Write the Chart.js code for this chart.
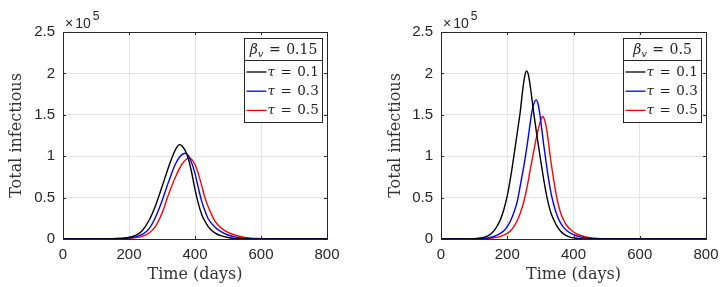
<!DOCTYPE html>
<html>
<head>
<meta charset="utf-8">
<script src="https://cdn.jsdelivr.net/npm/chart.js@4.4.1/dist/chart.umd.min.js"></script>
<style>
html, body { margin: 0; padding: 0; background: #fff; }
#wrap { position: relative; width: 728px; height: 287px; }
.pane { position: absolute; top: 0; width: 364px; height: 287px; }
</style>
</head>
<body>
<div id="wrap">
  <div class="pane" style="left:0"><canvas id="left" width="364" height="287"></canvas></div>
  <div class="pane" style="left:364px"><canvas id="right" width="364" height="287"></canvas></div>
</div>
<script>
// axes
const xTicks = [0, 200, 400, 600, 800];
const yTicks = [0, 0.5, 1, 1.5, 2, 2.5];
const yTickLabels = ['0', '0.5', '1', '1.5', '2', '2.5'];
const tauValues = ['0.1', '0.3', '0.5'];
const betaValues = ['0.15', '0.5'];
const seriesColors = ['#000000', '#0000ff', '#ff0000'];

// beta_v = 0.15 (values in units of 1e5)
const tA1 = [0, 100, 150, 200, 220, 240, 260, 280, 300, 320, 335, 345, 352, 360, 370, 380, 390, 400, 410, 420, 430, 440, 450, 460, 480, 500, 520, 550, 600, 700, 800];
const yA1 = [0, 0.001, 0.004, 0.018, 0.043, 0.1, 0.22, 0.4, 0.63, 0.87, 1.03, 1.11, 1.14, 1.125, 1.07, 0.97, 0.8, 0.6, 0.43, 0.3, 0.215, 0.15, 0.105, 0.075, 0.038, 0.018, 0.007, 0.002, 0.0005, 0, 0];
const tA2 = [0, 100, 150, 200, 220, 240, 260, 280, 300, 320, 340, 355, 370, 385, 400, 410, 420, 430, 440, 460, 480, 500, 520, 550, 600, 700, 800];
const yA2 = [0, 0.001, 0.003, 0.012, 0.025, 0.055, 0.12, 0.26, 0.46, 0.69, 0.9, 1.0, 1.035, 0.97, 0.79, 0.62, 0.46, 0.34, 0.245, 0.145, 0.085, 0.048, 0.025, 0.01, 0.002, 0, 0];
const tA3 = [0, 100, 150, 200, 220, 240, 260, 280, 300, 320, 340, 360, 383, 400, 410, 420, 430, 440, 460, 480, 500, 520, 550, 600, 650, 700, 800];
const yA3 = [0, 0.001, 0.002, 0.008, 0.017, 0.032, 0.07, 0.15, 0.31, 0.54, 0.74, 0.9, 0.98, 0.9, 0.79, 0.65, 0.5, 0.39, 0.22, 0.13, 0.08, 0.048, 0.02, 0.005, 0.001, 0, 0];

// beta_v = 0.5
const tB1 = [0, 50, 100, 120, 140, 150, 160, 170, 180, 190, 200, 210, 220, 230, 240, 246, 252, 258, 264, 270, 280, 290, 300, 310, 320, 330, 340, 350, 360, 370, 380, 390, 400, 420, 450, 500, 800];
const yB1 = [0, 0, 0.004, 0.012, 0.035, 0.06, 0.1, 0.16, 0.24, 0.36, 0.52, 0.74, 1.0, 1.28, 1.56, 1.78, 1.95, 2.03, 1.98, 1.83, 1.52, 1.24, 0.97, 0.72, 0.5, 0.34, 0.235, 0.155, 0.1, 0.062, 0.038, 0.022, 0.013, 0.005, 0.001, 0, 0];
const tB2 = [0, 100, 140, 160, 180, 190, 200, 210, 220, 230, 240, 250, 260, 270, 275, 280, 287, 293, 300, 310, 320, 330, 340, 350, 360, 370, 380, 400, 420, 440, 480, 550, 800];
const yB2 = [0, 0.002, 0.012, 0.03, 0.07, 0.1, 0.15, 0.22, 0.32, 0.45, 0.66, 0.88, 1.13, 1.42, 1.55, 1.63, 1.68, 1.63, 1.46, 1.14, 0.85, 0.6, 0.42, 0.29, 0.2, 0.14, 0.1, 0.052, 0.026, 0.013, 0.003, 0, 0];
const tB3 = [0, 100, 140, 160, 180, 200, 210, 220, 230, 240, 250, 260, 270, 280, 290, 300, 307, 314, 320, 330, 340, 350, 360, 370, 380, 400, 420, 440, 460, 500, 550, 800];
const yB3 = [0, 0.001, 0.006, 0.015, 0.032, 0.068, 0.1, 0.15, 0.22, 0.32, 0.45, 0.63, 0.85, 1.06, 1.26, 1.42, 1.48, 1.42, 1.3, 0.99, 0.72, 0.49, 0.33, 0.23, 0.16, 0.085, 0.045, 0.022, 0.01, 0.002, 0, 0];

const AXIS_COLOR = '#262626';
const SANS = '"Liberation Sans", Arial, sans-serif';
const SERIF = '"DejaVu Serif", serif';

function pairs(ts, ys) {
    return ts.map((t, i) => ({ x: t, y: ys[i] }));
}

// box, inward ticks, exponent label and the legend box
const decorations = {
    id: 'decorations',
    afterDraw(chart, args, opts) {
        const { ctx, chartArea: a, scales: { x, y } } = chart;
        ctx.save();
        ctx.strokeStyle = AXIS_COLOR;
        ctx.lineWidth = 1;
        ctx.beginPath();
        xTicks.forEach(v => {
            const px = Math.round(x.getPixelForValue(v)) + 0.5;
            ctx.moveTo(px, a.bottom); ctx.lineTo(px, a.bottom - 3);
            ctx.moveTo(px, a.top); ctx.lineTo(px, a.top + 3);
        });
        yTicks.forEach(v => {
            const py = Math.round(y.getPixelForValue(v)) + 0.5;
            ctx.moveTo(a.left, py); ctx.lineTo(a.left + 3, py);
            ctx.moveTo(a.right, py); ctx.lineTo(a.right - 3, py);
        });
        ctx.stroke();
        ctx.strokeRect(Math.round(a.left) + 0.5, Math.round(a.top) + 0.5,
            Math.round(a.right - a.left), Math.round(a.bottom - a.top));

        // x10^5
        ctx.fillStyle = AXIS_COLOR;
        ctx.textBaseline = 'alphabetic';
        ctx.textAlign = 'left';
        ctx.font = '14px ' + SANS;
        ctx.fillText('\u00d7', a.left + 2, a.top - 4);
        const wx = ctx.measureText('\u00d7').width;
        ctx.fillText('10', a.left + 4 + wx, a.top - 4);
        const w10 = ctx.measureText('10').width;
        ctx.font = '12px ' + SANS;
        ctx.fillText('5', a.left + 6 + wx + w10, a.top - 12);

        // legend
        const bw = 78, bh = 84;
        const bx = Math.round(a.right - 5 - bw) + 0.5;
        const by = Math.round(a.top + 6) + 0.5;
        ctx.fillStyle = '#fff';
        ctx.fillRect(bx, by, bw, bh);
        ctx.strokeStyle = AXIS_COLOR;
        ctx.strokeRect(bx, by, bw, bh);
        ctx.beginPath();
        ctx.moveTo(bx, by + 22); ctx.lineTo(bx + bw, by + 22);
        ctx.stroke();

        ctx.fillStyle = '#222';
        const gap = 5.5;
        // header: beta_v = value
        ctx.font = 'italic 14px ' + SERIF;
        const wb = ctx.measureText('\u03b2').width;
        ctx.font = 'italic 10px ' + SERIF;
        const wv = ctx.measureText('v').width;
        ctx.font = '14px ' + SERIF;
        const weq = ctx.measureText('=').width;
        const wn = ctx.measureText(opts.beta).width;
        let hx = bx + (bw - (wb + wv + gap * 2 + weq + wn)) / 2;
        const hy = by + 15.5;
        ctx.font = 'italic 14px ' + SERIF;
        ctx.fillText('\u03b2', hx, hy);
        hx += wb;
        ctx.font = 'italic 10px ' + SERIF;
        ctx.fillText('v', hx, hy + 3);
        hx += wv + gap;
        ctx.font = '14px ' + SERIF;
        ctx.fillText('=', hx, hy);
        hx += weq + gap;
        ctx.fillText(opts.beta, hx, hy);

        chart.data.datasets.forEach((ds, i) => {
            const cy = by + 33.5 + i * 19.2;
            ctx.strokeStyle = ds.borderColor;
            ctx.lineWidth = 1.3;
            ctx.beginPath();
            ctx.moveTo(bx + 2, cy); ctx.lineTo(bx + 22, cy);
            ctx.stroke();
            const parts = ds.label.split(' = ');
            let tx = bx + 23;
            ctx.fillStyle = '#222';
            ctx.font = 'italic 13.5px ' + SERIF;
            ctx.fillText(parts[0], tx, cy + 4);
            tx += ctx.measureText(parts[0]).width + gap;
            ctx.font = '13.5px ' + SERIF;
            ctx.fillText('=', tx, cy + 4);
            tx += ctx.measureText('=').width + gap;
            ctx.fillText(parts[1], tx, cy + 4);
        });
        ctx.restore();
    }
};

function makeChart(id, series, beta, yAxisWidth, rightPad, titleOffset) {
    const datasets = series.map((s, i) => ({
        label: '\u03c4 = ' + tauValues[i],
        data: pairs(s[0], s[1]),
        borderColor: seriesColors[i],
        borderWidth: 1.4,
        pointRadius: 0,
        fill: false,
        cubicInterpolationMode: 'monotone'
    }));
    return new Chart(document.getElementById(id), {
        type: 'line',
        data: { datasets },
        options: {
            responsive: false,
            animation: false,
            layout: { padding: { left: 0, right: rightPad, top: 32, bottom: 0 } },
            plugins: {
                legend: { display: false },
                tooltip: { enabled: false },
                decorations: { beta }
            },
            scales: {
                x: {
                    type: 'linear',
                    min: 0, max: 800,
                    afterFit: s => { s.height = 48; },
                    afterBuildTicks: s => { s.ticks = xTicks.map(v => ({ value: v })); },
                    grid: { color: '#e4e4e4', drawTicks: false },
                    border: { display: false },
                    ticks: {
                        color: AXIS_COLOR, padding: 7, maxRotation: 0, autoSkip: false,
                        font: { family: SANS, size: 15 }
                    },
                    title: {
                        display: true, text: 'Time (days)', color: '#333',
                        font: { family: SERIF, size: 16 }, padding: { top: 0, bottom: 3 }
                    }
                },
                y: {
                    type: 'linear',
                    min: 0, max: 2.5,
                    afterFit: s => { s.width = yAxisWidth; },
                    afterBuildTicks: s => { s.ticks = yTicks.map(v => ({ value: v })); },
                    grid: { color: '#e4e4e4', drawTicks: false },
                    border: { display: false },
                    ticks: {
                        color: AXIS_COLOR, padding: 8,
                        font: { family: SANS, size: 15 },
                        callback: v => yTickLabels[yTicks.indexOf(v)]
                    },
                    title: {
                        display: true, text: 'Total infectious', color: '#333',
                        font: { family: SERIF, size: 16 }, padding: { top: titleOffset, bottom: 0 }
                    }
                }
            }
        },
        plugins: [decorations]
    });
}

makeChart('left', [[tA1, yA1], [tA2, yA2], [tA3, yA3]], betaValues[0], 63, 37, 7);
makeChart('right', [[tB1, yB1], [tB2, yB2], [tB3, yB3]], betaValues[1], 77, 22, 22);
</script>
</body>
</html>
